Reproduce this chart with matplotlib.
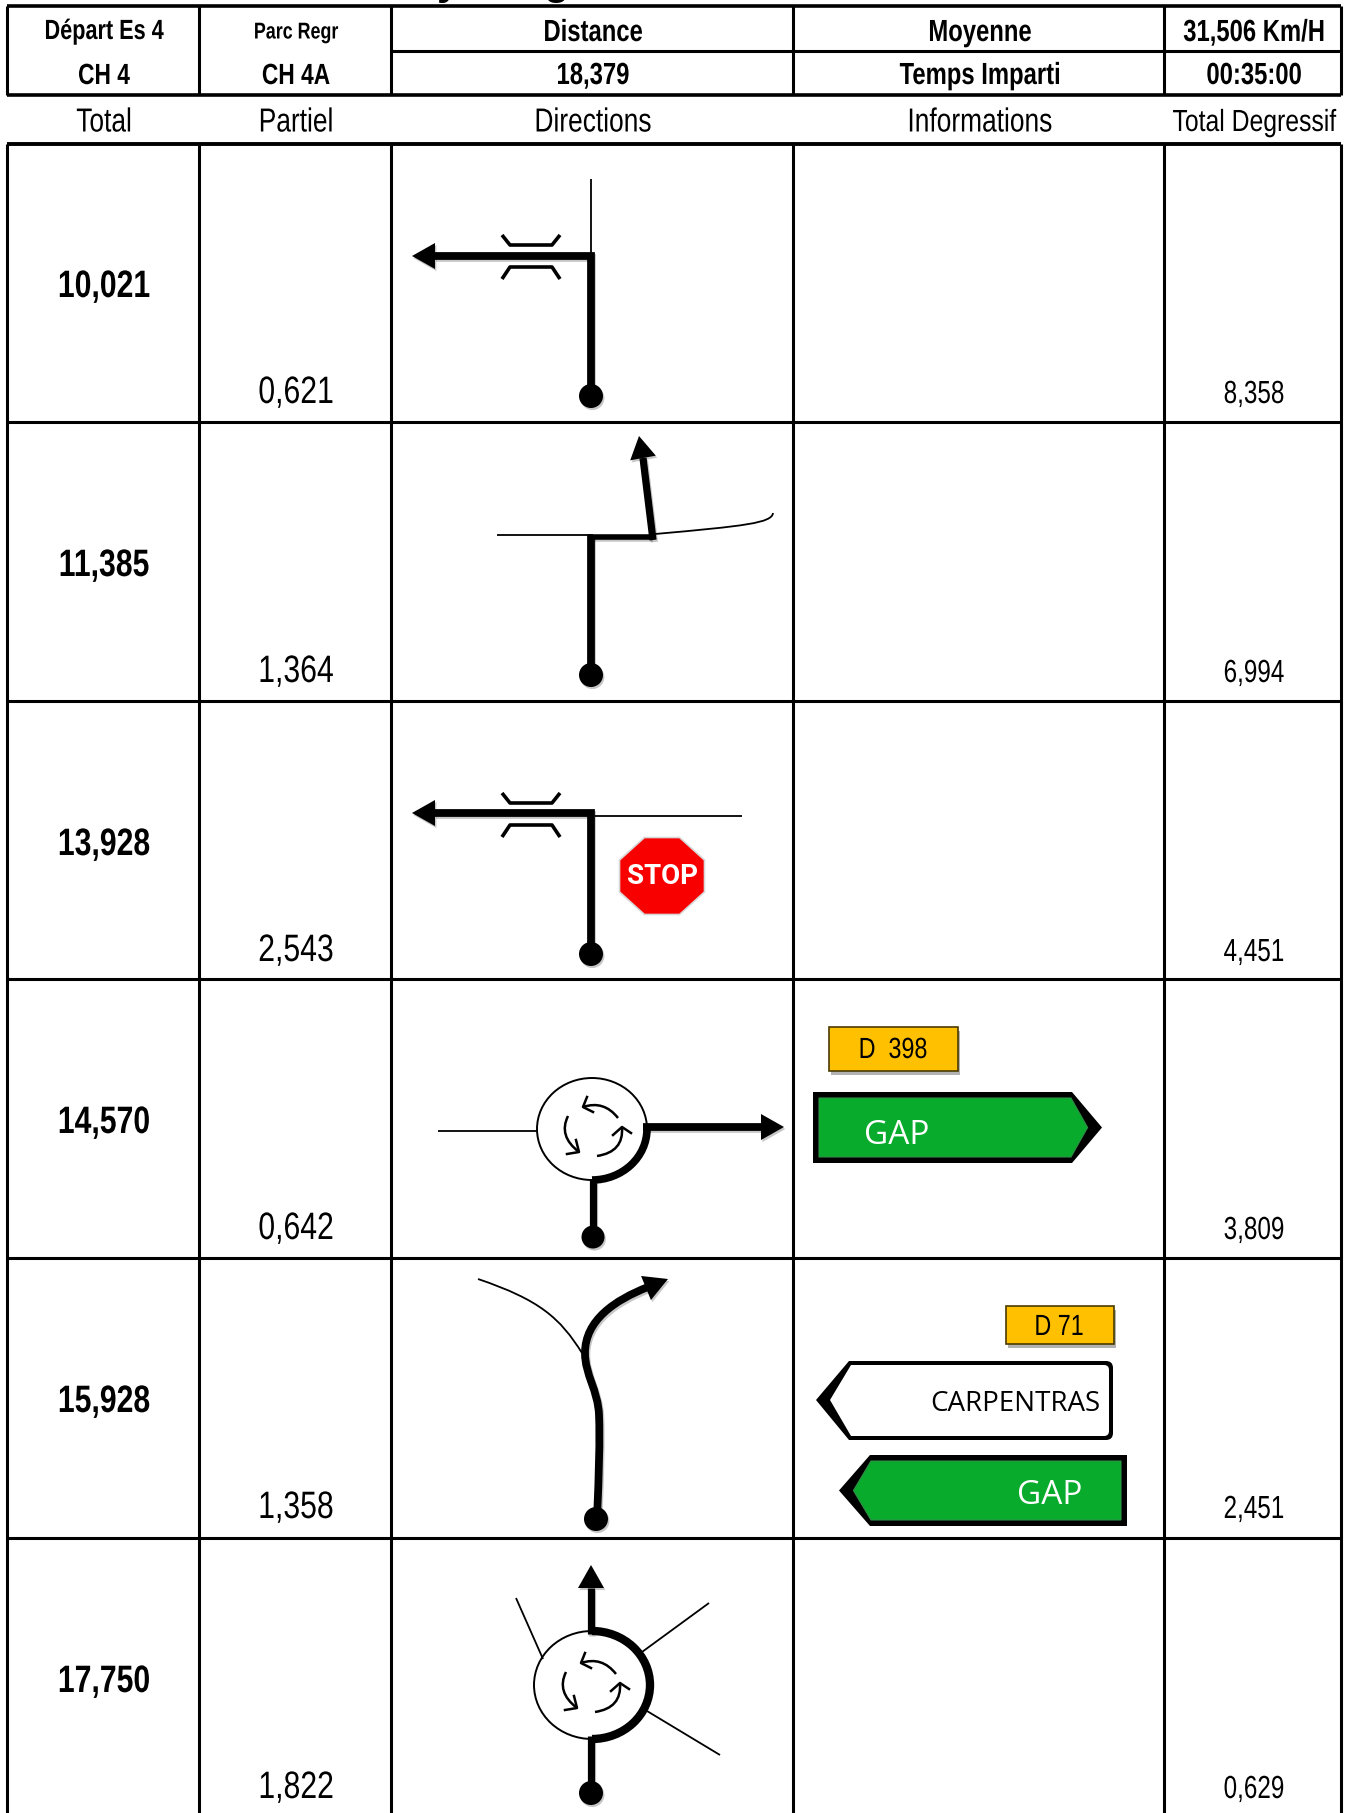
import numpy as np
import matplotlib
matplotlib.use('Agg')
from matplotlib import pyplot as plt
from matplotlib.path import Path
from matplotlib.patches import PathPatch, Polygon, Ellipse, Rectangle, Circle, Arc, FancyBboxPatch
from matplotlib.transforms import Affine2D
import matplotlib.patheffects as pe

BASE = ['Liberation Sans', 'DejaVu Sans']
SIGN = ['Open Sans', 'DejaVu Sans']

# table text
header_left = [['Départ Es 4', 'CH 4'], ['Parc Regr', 'CH 4A']]
header_mid = [['Distance', '18,379'], ['Moyenne', 'Temps Imparti'], ['31,506 Km/H', '00:35:00']]
columns = ['Total', 'Partiel', 'Directions', 'Informations', 'Total Degressif']
totals = ['10,021', '11,385', '13,928', '14,570', '15,928', '17,750']
partials = ['0,621', '1,364', '2,543', '0,642', '1,358', '1,822']
degressif = ['8,358', '6,994', '4,451', '3,809', '2,451', '0,629']

# grid lines, in pixels of the scan
col_x = [7, 199, 391, 793, 1164, 1341]
row_y = [143, 422, 701, 979, 1258, 1538]

# inner roundabout arrows: start, control, end, head points
rb_arcs = [
    [(618, 1118), (604, 1100), (583, 1107)],
    [(568, 1116), (558, 1136), (579, 1152)],
    [(597, 1156), (624, 1152), (622, 1127)],
]
rb_heads = [
    [(587, 1097), (583, 1107), (593, 1112)],
    [(567, 1154), (579, 1152), (576, 1140)],
    [(613, 1135), (622, 1127), (631, 1133)],
]

fig = plt.figure(figsize=(13.54, 18.13), dpi=100)
ax = fig.add_axes([0, 0, 1, 1])
ax.set_xlim(0, 1354)
ax.set_ylim(1813, 0)
ax.axis('off')

shadow = [pe.SimpleLineShadow(offset=(1.0, -1.5), alpha=0.22, shadow_color='k'), pe.Normal()]
patch_shadow = [pe.SimplePatchShadow(offset=(1.0, -1.5), alpha=0.22, shadow_rgbFace='k'), pe.Normal()]


class Squeeze(pe.AbstractPathEffect):
    # the scan uses a narrow font, none is installed so squeeze the glyphs around the text centre
    def __init__(self, cx, sx):
        super().__init__()
        self.cx = cx
        self.sx = sx

    def draw_path(self, renderer, gc, tpath, affine, rgbFace=None):
        squeezed = affine + Affine2D().translate(-self.cx, 0).scale(self.sx, 1).translate(self.cx, 0)
        renderer.draw_path(gc, tpath, squeezed, rgbFace)


def ntext(x, y, s, size, sx=0.78, weight='normal'):
    ax.text(x, y, s, ha='center', va='center', fontsize=size, family=BASE, weight=weight, zorder=5,
            path_effects=[Squeeze(x, sx)])


def thick(xs, ys, lw=5.6):
    ax.plot(xs, ys, color='k', lw=lw, solid_capstyle='butt', solid_joinstyle='miter',
            path_effects=shadow, zorder=4)


def thin(xs, ys, lw=1.3):
    ax.plot(xs, ys, color='k', lw=lw, solid_capstyle='butt', zorder=3)


def head(tail, tip, half=13):
    tail = np.array(tail, float)
    tip = np.array(tip, float)
    d = tip - tail
    n = np.array([-d[1], d[0]]) / np.hypot(*d)
    ax.add_patch(Polygon([tip, tail + n * half, tail - n * half], closed=True, fc='k', ec='none',
                         path_effects=patch_shadow, zorder=5))


def dot(x, y, r=12):
    ax.add_patch(Circle((x, y), r, fc='k', ec='none', path_effects=patch_shadow, zorder=5))


def bridge(y_top, y_low):
    for a, b in [(y_top, y_top + 10), (y_low + 12, y_low)]:
        ax.plot([502, 510, 552, 560], [a, b, b, a], color='k', lw=2.6, solid_capstyle='butt', zorder=3)


def roundabout(cx, cy, rx, ry, dx, dy):
    ax.add_patch(Ellipse((cx, cy), 2 * rx, 2 * ry, fc='white', ec='k', lw=1.4, zorder=2))
    for arc, hd in zip(rb_arcs, rb_heads):
        p = [(x + dx, y + dy) for x, y in arc]
        ax.add_patch(PathPatch(Path(p, [Path.MOVETO, Path.CURVE3, Path.CURVE3]), fc='none', ec='k', lw=1.8, zorder=3))
        ax.plot([x + dx for x, y in hd], [y + dy for x, y in hd], color='k', lw=1.8, zorder=3)


def plate(x0, x1, y0, y1, label, cx, cy, size):
    ax.add_patch(Rectangle((x0, y0), x1 - x0, y1 - y0, fc='#FFC000', ec='#4a3a00', lw=1.2,
                           path_effects=[pe.SimplePatchShadow(offset=(1.5, -3), alpha=0.3, shadow_rgbFace='k'), pe.Normal()],
                           zorder=3))
    ntext(cx, cy, label, size, 0.8)


def panel(x_tip, x_neck, x_end, y0, y1, fill, inset):
    # direction sign, black outline with coloured face
    ym = (y0 + y1) / 2
    s = 1 if x_tip > x_end else -1
    ax.add_patch(Polygon([(x_end, y0), (x_neck, y0), (x_tip, ym), (x_neck, y1), (x_end, y1)], closed=True,
                         fc='k', ec='none', zorder=3))
    ax.add_patch(Polygon([(x_end + s * inset, y0 + inset), (x_neck - s * 1, y0 + inset),
                          (x_tip - s * inset * 2.4, ym), (x_neck - s * 1, y1 - inset),
                          (x_end + s * inset, y1 - inset)], closed=True, fc=fill, ec='#2f8f45', lw=0.8, zorder=4))


# title cut off by the top of the scan
ax.text(448, -6, 'y', ha='center', va='baseline', fontsize=30, family=BASE, weight='bold', clip_on=False)
ax.text(556, -6, 'g', ha='center', va='baseline', fontsize=30, family=BASE, weight='bold', clip_on=False)

# table lines
for y, lw in [(6, 2.6), (95, 2.6), (144, 2.8)]:
    ax.plot([col_x[0], col_x[-1]], [y, y], color='k', lw=lw, solid_capstyle='butt', zorder=1)
ax.plot([col_x[2], col_x[-1]], [51, 51], color='k', lw=2.2, solid_capstyle='butt', zorder=1)
for y in row_y[1:]:
    ax.plot([col_x[0], col_x[-1]], [y, y], color='k', lw=2.2, solid_capstyle='butt', zorder=1)
for x in col_x:
    ax.plot([x, x], [6, 95], color='k', lw=2.2, solid_capstyle='butt', zorder=1)
    ax.plot([x, x], [144, 1813], color='k', lw=2.2, solid_capstyle='butt', zorder=1)

col_c = [104, 296, 593, 980, 1254]
ntext(col_c[0], 32, header_left[0][0], 20, 0.78, 'bold')
ntext(col_c[0], 76, header_left[0][1], 21, 0.78, 'bold')
ntext(col_c[1], 32, header_left[1][0], 16.5, 0.78, 'bold')
ntext(col_c[1], 76, header_left[1][1], 21, 0.78, 'bold')
for i, pair in enumerate(header_mid):
    ntext(col_c[i + 2], 33, pair[0], 22, 0.78, 'bold')
    ntext(col_c[i + 2], 76, pair[1], 22, 0.78, 'bold')
for c, name in zip(col_c[:4], columns[:4]):
    ntext(c, 123, name, 24, 0.79)
ntext(col_c[4], 123, columns[4], 22, 0.81)

for i, top in enumerate(row_y):
    ntext(col_c[0], top + 144, totals[i], 27.5, 0.79, 'bold')
    ntext(col_c[1], top + 250, partials[i], 27.5, 0.79)
    ntext(col_c[4], top + 252, degressif[i], 23, 0.76)

# row 1
thin([591, 591], [179, 256])
thick([591, 591, 435], [396, 256, 256])
head((435, 256), (412, 256))
dot(591, 396)
bridge(235, 267)

# row 2
thin([497, 593], [535, 535])
ax.add_patch(PathPatch(Path([(655, 534), (745, 526), (772, 523), (773, 513)],
                            [Path.MOVETO, Path.CURVE4, Path.CURVE4, Path.CURVE4]), fc='none', ec='k', lw=1.3, zorder=3))
thick([591, 591], [675, 535])
thick([588, 652], [537, 537], lw=4)
thick([653, 643], [540, 458], lw=5.2)
head((643, 458), (639, 436))
dot(591, 675)

# row 3
thin([595, 742], [816, 816])
thick([591, 591, 435], [954, 813, 813])
head((435, 813), (412, 813))
dot(591, 954)
bridge(793, 825)
angles = np.deg2rad(np.arange(22.5, 382.5, 45))
ax.add_patch(Polygon(np.c_[662 + 42.5 / np.cos(np.pi / 8) * np.cos(angles), 876 + 38.5 / np.cos(np.pi / 8) * np.sin(angles)],
                     closed=True, fc='#F80000', ec='#d8d8d8', lw=1.2, zorder=3))
ax.text(662, 877, 'STOP', ha='center', va='center', fontsize=20, family=['Roboto', 'DejaVu Sans'], weight='bold',
        color='white', zorder=4)

# row 4
thin([438, 537], [1131, 1131])
roundabout(592, 1129, 55, 51, 0, 0)
ax.add_patch(Arc((592, 1129), 110, 102, theta1=0, theta2=90, ec='k', lw=5.5, zorder=4))
thick([643, 761], [1127, 1127])
head((761, 1127), (784, 1127))
thick([593, 593], [1180, 1237], lw=5.2)
dot(593, 1237, 11.5)
plate(829, 958, 1027, 1071, 'D  398', 893, 1050, 21)
panel(1102, 1072, 813, 1092, 1163, '#09AB2D', 6)
ax.text(897, 1135, 'GAP', ha='center', va='center', fontsize=24, family=SIGN, color='white', zorder=5)

# row 5
ax.add_patch(PathPatch(Path([(478, 1279), (540, 1300), (560, 1318), (582, 1353)],
                            [Path.MOVETO, Path.CURVE4, Path.CURVE4, Path.CURVE4]), fc='none', ec='k', lw=1.3, zorder=3))
road = Path([(597, 1519), (599, 1470), (600, 1440), (599, 1415), (598, 1390), (585, 1375), (585, 1353),
             (585, 1320), (615, 1300), (648, 1287)],
            [Path.MOVETO] + [Path.CURVE4] * 9)
ax.add_patch(PathPatch(road, fc='none', ec='k', lw=5.6, capstyle='butt', path_effects=shadow, zorder=4))
head((646, 1288), (668, 1279), 13)
dot(596, 1519)
plate(1006, 1114, 1306, 1344, 'D 71', 1059, 1327, 21)
# white sign with rounded end
ax.add_patch(FancyBboxPatch((860, 1361), 253, 79, boxstyle='round,pad=0,rounding_size=7', fc='k', ec='none', zorder=3))
ax.add_patch(Polygon([(816, 1400), (849, 1361), (880, 1361), (880, 1440), (849, 1440)], closed=True, fc='k', ec='none', zorder=3))
ax.add_patch(FancyBboxPatch((864, 1365), 245, 71, boxstyle='round,pad=0,rounding_size=5', fc='white', ec='none', zorder=4))
ax.add_patch(Polygon([(830, 1400), (851, 1365), (880, 1365), (880, 1436), (851, 1436)], closed=True, fc='white', ec='none', zorder=4))
ax.text(1100, 1404, 'CARPENTRAS', ha='right', va='center', fontsize=20, family=SIGN, color='k', zorder=5)
panel(839, 870, 1127, 1455, 1526, '#09AB2D', 6)
ax.text(1050, 1495, 'GAP', ha='center', va='center', fontsize=24, family=SIGN, color='white', zorder=5)

# row 6
thin([516, 543], [1598, 1659])
thin([709, 642], [1603, 1652])
thin([720, 647], [1755, 1711])
roundabout(592, 1685, 58, 54, -2, 556)
ax.add_patch(Arc((592, 1685), 116, 108, theta1=-90, theta2=90, ec='k', lw=6, zorder=4))
thick([591, 591], [1634, 1588], lw=5.2)
head((591, 1588), (591, 1565))
thick([591, 591], [1736, 1793], lw=5.2)
dot(591, 1793)

plt.savefig('out.png', dpi=100)
